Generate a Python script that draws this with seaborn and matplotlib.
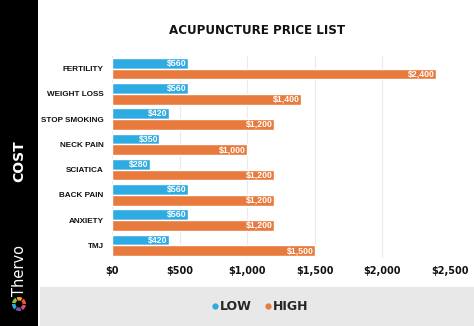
import matplotlib
matplotlib.use("Agg")
import matplotlib.pyplot as plt
from matplotlib.patches import Rectangle, Wedge
from matplotlib.lines import Line2D
import seaborn as sns
import pandas as pd

categories = ["FERTILITY", "WEIGHT LOSS", "STOP SMOKING", "NECK PAIN",
              "SCIATICA", "BACK PAIN", "ANXIETY", "TMJ"]
low = [560, 560, 420, 350, 280, 560, 560, 420]
high = [2400, 1400, 1200, 1000, 1200, 1200, 1200, 1500]
series = ["LOW", "HIGH"]
xticks = [0, 500, 1000, 1500, 2000, 2500]
xtick_labels = ["$0", "$500", "$1,000", "$1,500", "$2,000", "$2,500"]

colors = {"LOW": "#2EABE2", "HIGH": "#E97A3E"}

df = pd.DataFrame({
    "category": categories * 2,
    "value": low + high,
    "series": ["LOW"] * len(categories) + ["HIGH"] * len(categories),
})

sns.set_style("white")
plt.rcParams['font.family'] = ['DejaVu Sans']
narrow = "Liberation Sans"

fig = plt.figure(figsize=(4.74, 3.26), dpi=100)
fig.patch.set_facecolor("white")

fig.patches.append(Rectangle((0, 0), 38 / 474, 1, transform=fig.transFigure,
                             facecolor="black", edgecolor="none", zorder=0))
fig.patches.append(Rectangle((40 / 474, 0), 1, 39 / 326, transform=fig.transFigure,
                             facecolor="#E8E8E8", edgecolor="none", zorder=0))

ax = fig.add_axes([112 / 474, 1 - 258 / 326, 338 / 474, 202 / 326])
sns.barplot(data=df, y="category", x="value", hue="series", order=categories,
            hue_order=series, palette=colors, orient="h", width=0.85,
            saturation=1, ax=ax, legend=False)

for cont in ax.containers:
    for p in cont.patches:
        w = p.get_width()
        ax.text(p.get_x() + w - 10, p.get_y() + p.get_height() / 2,
                f"${w:,.0f}", ha="right", va="center", color="white",
                fontsize=6.3, fontweight="bold", family=narrow)

ax.set_xlim(0, 2500)
ax.set_ylim(len(categories) - 0.5, -0.5)
ax.set_xticks(xticks)
ax.set_xticklabels(xtick_labels)
ax.grid(axis="x", color="#EBEBEB", linewidth=0.8)
ax.set_axisbelow(True)
for s in ax.spines.values():
    s.set_visible(False)
ax.tick_params(axis="both", length=0)
ax.tick_params(axis="x", pad=6, labelsize=7)
ax.tick_params(axis="y", pad=6, labelsize=5.9)
for t in ax.get_xticklabels():
    t.set_fontweight("bold")
    t.set_color("#111111")
for t in ax.get_yticklabels():
    t.set_fontweight("bold")
    t.set_family(narrow)
    t.set_color("#111111")
ax.set_xlabel("")
ax.set_ylabel("")

fig.text(257 / 474, 1 - 31 / 326, "ACUPUNCTURE PRICE LIST", ha="center",
         va="center", fontsize=8.6, fontweight="bold", color="#111111")

fig.text(19 / 474, 1 - 161 / 326, "COST", rotation=90, ha="center", va="center",
         fontsize=10, fontweight="bold", color="white")
fig.text(19 / 474, 1 - 270 / 326, "Thervo", rotation=90, ha="center", va="center",
         fontsize=10.5, color="white")

logo_cols = ["#E94F3C", "#F5A623", "#8BC53F", "#29ABE2", "#7B4FA0", "#E2457D"]
for i, c in enumerate(logo_cols):
    fig.patches.append(Wedge((19, 22), 7, i * 60, i * 60 + 50, width=3.5,
                             transform=None, facecolor=c, edgecolor="none"))

handles = [Line2D([], [], marker="o", linestyle="none", markersize=3.5,
                  color=colors[s]) for s in series]
fig.legend(handles, series, loc="center", bbox_to_anchor=(258 / 474, 1 - 307 / 326),
           ncol=2, frameon=False, handletextpad=-0.2, columnspacing=0.7,
           handlelength=1.2, prop={"weight": "bold", "size": 9})

fig.savefig("out.png", dpi=100)
